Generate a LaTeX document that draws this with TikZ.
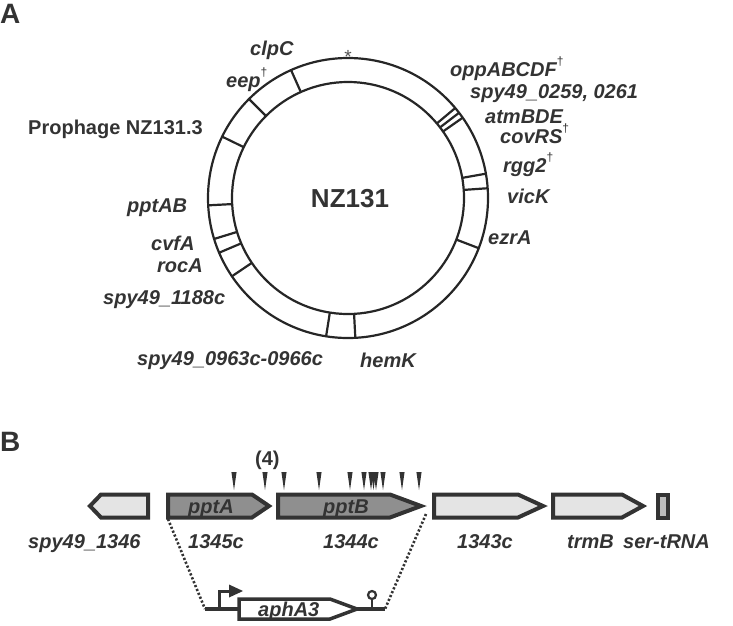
\documentclass[tikz,border=0pt]{standalone}
\usepackage{fontspec}
\setmainfont{Liberation Sans}
\usetikzlibrary{calc}
\definecolor{ink}{HTML}{333333}
\definecolor{ringink}{HTML}{262626}
\definecolor{lightfill}{HTML}{E4E4E4}
\definecolor{darkfill}{HTML}{8F8F8F}
\definecolor{midfill}{HTML}{BDBDBD}
\newcommand\dagsym{\raisebox{0.55em}{\fontsize{12}{12}\selectfont\mdseries\upshape †}}
\tikzset{
  lab/.style={font=\fontsize{20}{22}\selectfont\bfseries\itshape, text=ink, inner sep=0pt, anchor=base west},
  uplab/.style={font=\fontsize{20}{22}\selectfont\bfseries, text=ink, inner sep=0pt, anchor=base west},
  panel/.style={font=\fontsize{28}{29}\selectfont\bfseries, text=ink, inner sep=0pt, anchor=base west},
  ring/.style={draw=ringink, line width=2.2pt},
  gene/.style={draw=ink, line width=4pt, line join=miter},
  wedge/.style={fill=ink, draw=none},
  construct/.style={draw=ink, line width=3.5pt, line join=miter},
  dots/.style={draw=ink, line width=2.6pt, dash pattern=on 2.2pt off 2pt},
}
\begin{document}
\begin{tikzpicture}[x=1pt,y=-1pt]
\useasboundingbox (0,0) rectangle (733,625);
% ---------------- Panel A ----------------
\node[panel] (pA) at (0,23) {A};
\coordinate (c) at (348,198);
\draw[ring] (c) circle[radius=140pt];
\draw[ring] (c) circle[radius=116pt];
\foreach \a in {114,135,154,183,197,203,214,261,273,339,4,10,35,37.5,40}
  \draw[ring] ($(c)+(-\a:116)$) -- ($(c)+(-\a:140)$);
\node[font=\fontsize{19}{19}\selectfont, text=ink!85, inner sep=0pt, anchor=base] (star) at (348,63) {*};
\node[font=\fontsize{26}{27}\selectfont\bfseries, text=ink, inner sep=0pt, anchor=base] (nz) at (350,207) {NZ131};
\node[lab] (clpC) at (250,55) {clpC};
\node[lab] (eep) at (226,87) {eep\dagsym};
\node[uplab] (pro) at (28,134) {Prophage NZ131.3};
\node[lab] (pptAB) at (127,212) {pptAB};
\node[lab] (cvfA) at (151,250) {cvfA};
\node[lab] (rocA) at (157,272) {rocA};
\node[lab] (s1188) at (103,304) {spy49\_1188c};
\node[lab] (s0963) at (137,365) {spy49\_0963c-0966c};
\node[lab] (hemK) at (360,367) {hemK};
\node[lab] (ezrA) at (488,244) {ezrA};
\node[lab] (vicK) at (507,203) {vicK};
\node[lab] (rgg2) at (503,172) {rgg2\dagsym};
\node[lab] (covRS) at (500,143) {covRS\dagsym};
\node[lab] (atm) at (485,123) {atmBDE};
\node[lab] (s0259) at (470,98) {spy49\_0259, 0261};
\node[lab] (opp) at (450,76) {oppABCDF\dagsym};
% ---------------- Panel B ----------------
\node[panel] (pB) at (0,451) {B};
% genes
\draw[gene, fill=lightfill] (90,506) -- (101,494.5) -- (148,494.5) -- (148,517.5) -- (101,517.5) -- cycle;
\draw[gene, fill=darkfill] (168,494.5) -- (252,494.5) -- (269,506) -- (252,517.5) -- (168,517.5) -- cycle;
\draw[gene, fill=darkfill] (278,494.5) -- (390,494.5) -- (421,506) -- (390,517.5) -- (278,517.5) -- cycle;
\draw[gene, fill=lightfill] (434,494.5) -- (518,494.5) -- (543,506) -- (518,517.5) -- (434,517.5) -- cycle;
\draw[gene, fill=lightfill] (553,494.5) -- (622,494.5) -- (643,506) -- (622,517.5) -- (553,517.5) -- cycle;
\draw[gene, fill=midfill] (658,494.5) rectangle (668,517.5);
\coordinate (pAbl) at (168,519);
\coordinate (pBtip) at (426,514);
\node[lab] (tA) at (188,513) {pptA};
\node[lab] (tB) at (323,513) {pptB};
% insertion wedges
\foreach \x in {234,265,284,319,350,364,371,373.5,376,383,402,419}
  \fill[wedge] (\x-2.6,472) -- (\x+2.6,472) -- (\x,490) -- cycle;
\node[uplab] (four) at (255,465) {(4)};
% gene labels
\node[lab] (g1346) at (28,548) {spy49\_1346};
\node[lab] (g1345) at (188,548) {1345c};
\node[lab] (g1344) at (323,548) {1344c};
\node[lab] (g1343) at (457,548) {1343c};
\node[lab] (gtrmB) at (567,548) {trmB};
\node[lab] (gser) at (623,548) {ser-tRNA};
% construct
\coordinate (cL) at (205,609);
\coordinate (cR) at (385,609);
\draw[draw=ink, line width=3.5pt] (cL) -- (cR);
\draw[draw=ink, line width=3pt] (219,609) -- (219,591) -- (231,591);
\fill[ink] (229,584.5) -- (243,591) -- (229,597.5) -- cycle;
\draw[construct, fill=white] (239,599) -- (330,599) -- (357,609) -- (330,619) -- (239,619) -- cycle;
\node[lab] (aph) at (258,616) {aphA3};
\draw[draw=ink, line width=2.5pt] (372,609) -- (372,599);
\draw[draw=ink, line width=2.2pt, fill=white] (372,595) circle[radius=4pt];
\draw[dots] (pAbl) -- (cL);
\draw[dots] (pBtip) -- (cR);
\end{tikzpicture}
\end{document}
